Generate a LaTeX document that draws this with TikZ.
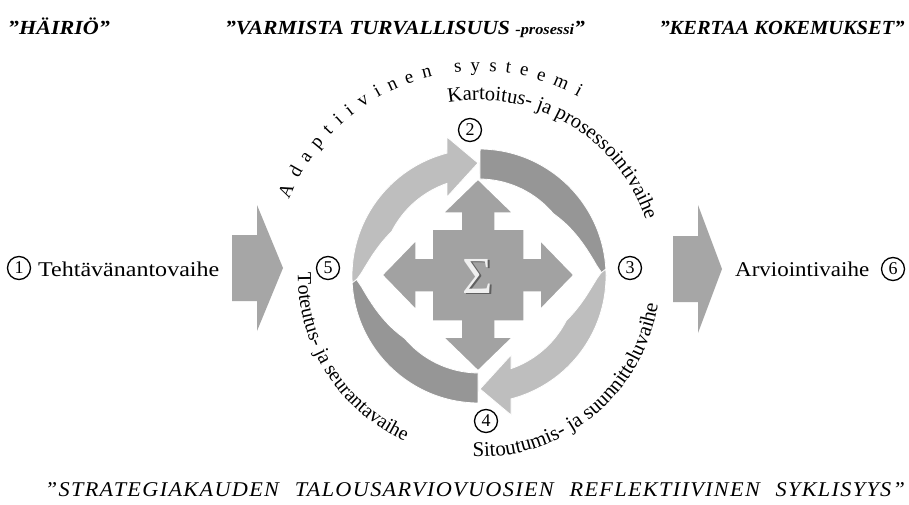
\documentclass[tikz,border=0pt]{standalone}
\usepackage{fontspec}
\setmainfont{Liberation Serif}
\usepackage{graphicx}
\usetikzlibrary{decorations.text}

\definecolor{arclight}{RGB}{190,190,190}
\definecolor{arcdark}{RGB}{150,150,150}
\definecolor{crossgray}{RGB}{162,162,162}
\definecolor{sidegray}{RGB}{166,166,166}

% stretch a text horizontally to a given width, keeping its natural height
\newcommand{\fitwidth}[2]{\resizebox{#1}{\height}{#2}}

\begin{document}
\begin{tikzpicture}[x=1pt,y=1pt,
  % band widths near the tapered ends of the cycle ribbons
  declare function={
    wlight(\t)=29*(max(0.001,min(1,(183-\t)/30)))^0.6;
    wdark(\t)=30*(max(0.001,min(1,(\t-180)/40)))^0.6;
  },
  numcirc/.style={circle, draw=black, line width=1.3pt, minimum size=23pt,
    inner sep=0pt, font=\fontsize{18}{18}\selectfont},
  phase/.style={anchor=base west, inner sep=0pt, font=\fontsize{21}{24}\selectfont},
  headline/.style={anchor=base, inner sep=0pt, font=\fontsize{20}{24}\selectfont\bfseries\itshape},
  footline/.style={anchor=base, inner sep=0pt, font=\fontsize{21}{24}\selectfont\itshape},
  bandlight/.style={fill=arclight, draw=white, line width=0.8pt},
  banddark/.style={fill=arcdark, draw=white, line width=0.8pt},
  curvedtext/.style 2 args={decorate, decoration={text along path, text align={left},
    text={|\fontsize{#1}{24}\selectfont|#2}}},
]
\fill[white] (0,0) rectangle (909,-505);
\useasboundingbox (0,0) rectangle (909,-505);
\coordinate (C) at (479,-276);

% headlines
\node[headline] (h1) at (59,-35) {\fitwidth{102pt}{"HÄIRIÖ"}};
\node[headline] (h2) at (405,-35) {\fitwidth{360pt}{"VARMISTA TURVALLISUUS {\fontsize{15}{15}\selectfont -prosessi}"}};
\node[headline] (h3) at (782,-35) {\fitwidth{245pt}{"KERTAA KOKEMUKSET"}};
\node[footline] (foot) at (475,-496) {\fitwidth{860pt}{\addfontfeature{LetterSpace=6}"STRATEGIAKAUDEN\hspace{0.4em} TALOUSARVIOVUOSIEN\hspace{0.4em} REFLEKTIIVINEN\hspace{0.4em} SYKLISYYS"}};

% side arrows
\fill[sidegray] (232,-235) -- (257,-235) -- (257,-205) -- (283,-268)
  -- (257,-331) -- (257,-301) -- (232,-301) -- cycle;
\fill[sidegray] (673,-236) -- (698,-236) -- (698,-205) -- (722,-269)
  -- (698,-333) -- (698,-302) -- (673,-302) -- cycle;

% cycle ribbons: dark halves behind, light arrows in front
\path[banddark] ([shift={(89.5:127pt)}]C) arc[start angle=89.5, end angle=0, radius=127pt]
  -- plot[domain=0:89.5, samples=50, variable=\t]
     ({479+(127-wdark(\t+180))*cos(\t)}, {-276+(127-wdark(\t+180))*sin(\t)}) -- cycle;
\path[banddark] ([shift={(269.5:127pt)}]C) arc[start angle=269.5, end angle=180, radius=127pt]
  -- plot[domain=180:269.5, samples=50, variable=\t]
     ({479+(127-wdark(\t))*cos(\t)}, {-276+(127-wdark(\t))*sin(\t)}) -- cycle;
\path[bandlight] ([shift={(183:127pt)}]C) arc[start angle=183, end angle=104.6, radius=127pt]
  -- (447,-137) -- (478,-163) -- (447,-197) -- (447,-183.4)
  -- plot[domain=109.06:183, samples=50, variable=\t]
     ({479+(127-wlight(\t))*cos(\t)}, {-276+(127-wlight(\t))*sin(\t)}) -- cycle;
\path[bandlight] ([shift={(3:127pt)}]C) arc[start angle=3, end angle=-75.4, radius=127pt]
  -- (511,-415) -- (480,-389) -- (511,-355) -- (511,-368.6)
  -- plot[domain=-70.94:3, samples=50, variable=\t]
     ({479+(127-wlight(\t+180))*cos(\t)}, {-276+(127-wlight(\t+180))*sin(\t)}) -- cycle;

% four-way arrow
\path[fill=crossgray, draw=white, line width=1.5pt, shift={(478,-275)}]
  (0,96) -- (35,62) -- (17,62) -- (17,46) -- (46,46) -- (46,17) -- (62,17) -- (62,35)
  -- (96,0) -- (62,-35) -- (62,-17) -- (46,-17) -- (46,-46) -- (17,-46) -- (17,-62) -- (35,-62)
  -- (0,-96) -- (-35,-62) -- (-17,-62) -- (-17,-46) -- (-46,-46) -- (-46,-17) -- (-62,-17) -- (-62,-35)
  -- (-96,0) -- (-62,35) -- (-62,17) -- (-46,17) -- (-46,46) -- (-17,46) -- (-17,62) -- (-35,62) -- cycle;
\node[text=gray!75!black, font=\fontsize{52}{52}\selectfont] (sigmashadow) at (479.5,-277.5) {Σ};
\node[text=gray!12, font=\fontsize{52}{52}\selectfont] (sigma) at (478,-276) {Σ};

% circled phase numbers
\node[numcirc] (n1) at (19,-268) {1};
\node[numcirc] (n2) at (470,-130) {2};
\node[numcirc] (n3) at (630,-268) {3};
\node[numcirc] (n4) at (486,-421) {4};
\node[numcirc] (n5) at (328,-268) {5};
\node[numcirc] (n6) at (893,-269) {6};

% straight phase labels
\node[phase] (t1) at (38,-276) {\fitwidth{181pt}{Tehtävänantovaihe}};
\node[phase] (t6) at (735,-276) {\fitwidth{134pt}{Arviointivaihe}};

% curved phase labels
\path[curvedtext={20.5}{Kartoitus- ja prosessointivaihe}]
  ([shift={(100:176pt)}]C) arc[start angle=100, end angle=0, radius=176pt];
\path[curvedtext={21}{Sitoutumis- ja suunnitteluvaihe}]
  ([shift={(268:181pt)}]C) arc[start angle=268, end angle=400, radius=181pt];
\path[curvedtext={20}{Toteutus- ja seurantavaihe}]
  ([shift={(179:181pt)}]C) arc[start angle=179, end angle=280, radius=181pt];
\path[decorate, decoration={text along path, text align={fit to path},
    text={|\fontsize{19}{23}\selectfont|Adaptiivinen systeemi}}]
  ([shift={(158:205pt)}]C) arc[start angle=158, end angle=61, radius=205pt];
\end{tikzpicture}
\end{document}
